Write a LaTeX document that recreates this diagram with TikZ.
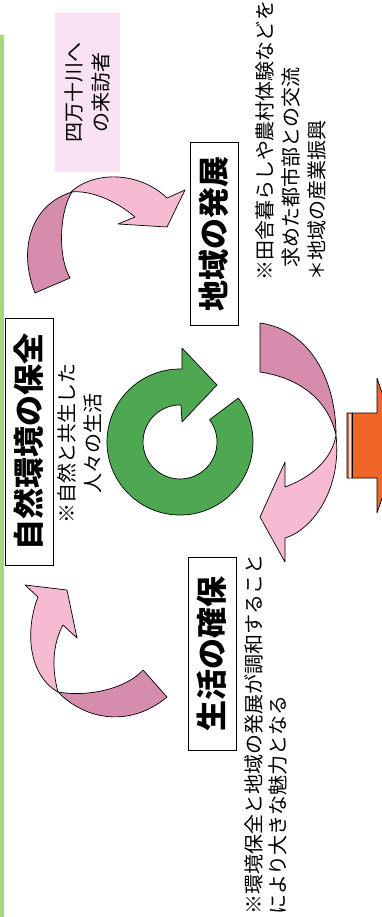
\documentclass[tikz,border=0pt]{standalone}
\usepackage{fontspec}
\setmainfont{Noto Sans CJK JP}
\definecolor{dk}{RGB}{214,140,172}
\definecolor{lt}{RGB}{246,186,211}
\definecolor{gr}{RGB}{78,168,82}
\definecolor{lg}{RGB}{168,214,120}
\definecolor{vp}{RGB}{249,226,244}
\definecolor{org}{RGB}{240,102,40}
\tikzset{t/.style={draw, rotate=90, inner sep=0pt, minimum height=48pt, line width=0.8pt, font=\fontsize{31}{31}\selectfont\bfseries}}
\tikzset{n/.style={rotate=90, inner sep=0pt, font=\fontsize{20}{26}\selectfont}}
\tikzset{s/.style={draw=black, line width=0.7pt, line join=round}}

\begin{document}
\begin{tikzpicture}[x=1pt,y=1pt]
  \useasboundingbox (0,0) rectangle (382,-917);
  \fill[lg] (0,-35) rectangle (4,-917);
  \node[n, fill=vp, minimum width=159pt, minimum height=65pt, align=center, font=\fontsize{20}{27}\selectfont] (visitors) at (87.5,-92.5) {四万十川へ\\の来訪者};
  \node[t, minimum width=247pt] (nature) at (29,-441.5) {自然環境の保全};
  \node[t, minimum width=183pt] (region) at (214,-233.5) {地域の発展};
  \node[t, minimum width=193pt] (life) at (212,-653.5) {生活の確保};
  \node[n, align=center] (naturenote) at (80,-443) {※自然と共生した\\人々の生活};
  \node[n, align=left, anchor=west] (regionnote) at (291,-281) {※田舎暮らしや農村体験などを\\\hspace{0.65em}求めた都市部との交流\\＊地域の産業振興};
  \node[n, align=left, anchor=west, font=\fontsize{20}{24}\selectfont] (lifenote) at (266,-915) {※環境保全と地域の発展が調和すること\\により大きな魅力となる};
  % visitors -> region
  \filldraw[s, fill=lt] (71,-192) .. controls (95,-170) and (140,-172) .. (167,-198) -- (185,-190) -- (167,-227) -- (118,-224) -- (135,-217) .. controls (115,-200) and (90,-190) .. (71,-192) -- cycle;
  \filldraw[s, fill=dk] (35,-293) .. controls (18,-250) and (30,-205) .. (72,-192) .. controls (60,-210) and (57,-255) .. (70,-278) -- cycle;
  % region -> life
  \filldraw[s, fill=dk] (260,-323) .. controls (310,-330) and (336,-380) .. (336,-435) .. controls (328,-400) and (300,-378) .. (260,-372) -- cycle;
  \filldraw[s, fill=lt] (336,-435) .. controls (342,-490) and (312,-530) .. (285,-538) -- (285,-562) -- (260,-517) -- (285,-462) -- (285,-487) .. controls (310,-478) and (332,-460) .. (336,-435) -- cycle;
  % life -> nature
  \filldraw[s, fill=lt] (38,-597) .. controls (25,-630) and (28,-675) .. (58,-692) .. controls (52,-670) and (52,-645) .. (63,-625) -- (77,-638) -- (67,-590) -- (25,-585) -- cycle;
  \filldraw[s, fill=dk] (58,-692) .. controls (85,-697) and (125,-690) .. (143,-670) -- (167,-697) .. controls (130,-728) and (85,-720) .. (58,-692) -- cycle;
  % cycle
  \filldraw[s, fill=gr] (180,-442) ++(37:73) arc[start angle=37, end angle=-271.5, radius=73] -- (182,-348) -- (217,-385) -- (182,-422) -- (181,-405) arc[start angle=-271.5, end angle=37, radius=37] -- cycle;
  % out
  \filldraw[s, fill=org] (347,-413) -- (377,-413) -- (377,-378) -- (400,-445.5) -- (377,-513) -- (377,-478) -- (347,-478) -- cycle;
  \fill[lt!40] (348.5,-413.5) rectangle (351,-477.5);
  \draw[line width=1pt] (352.5,-413) -- (352.5,-478);
\end{tikzpicture}
\end{document}
